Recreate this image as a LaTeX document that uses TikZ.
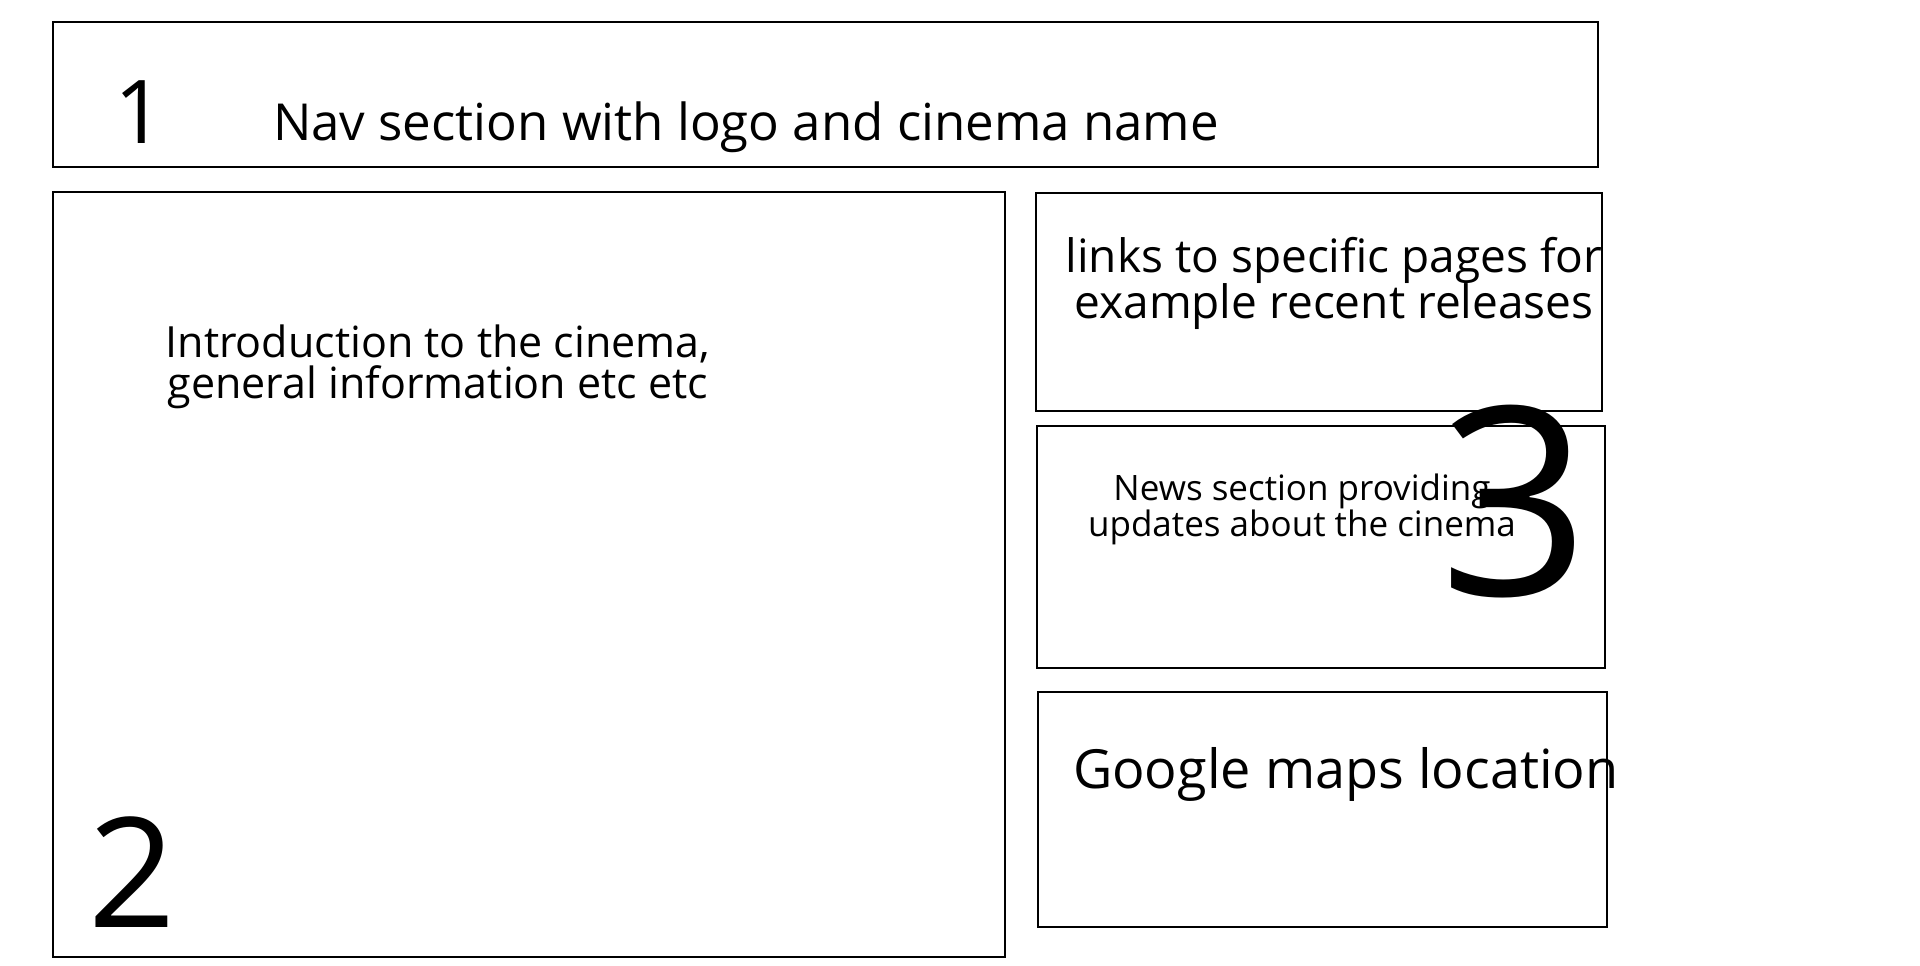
\documentclass[tikz,border=0pt]{standalone}
\usepackage{fontspec}
\setmainfont{Open Sans}
\begin{document}
\begin{tikzpicture}[x=1pt,y=-1pt,
  panel/.style={draw=black,line width=1.2pt},
  lbl/.style={inner sep=0pt,outer sep=0pt,text=black}]
\useasboundingbox[fill=white] (0,0) rectangle (1920,966);
% panels
\draw[panel] (53,22) rectangle (1598,167);
\draw[panel] (53,192) rectangle (1005,957);
\draw[panel] (1036,193) rectangle (1602,411);
\draw[panel] (1037,426) rectangle (1605,668);
\draw[panel] (1038,692) rectangle (1607,927);
% texts
\node[lbl,anchor=base west,font=\fontsize{88}{100}\selectfont] (n1) at (114,143) {1};
\node[lbl,anchor=base west,font=\fontsize{51}{60}\selectfont] (nav) at (273,140) {Nav section with logo and cinema name};
\node[lbl,align=center,font=\fontsize{43}{41}\selectfont] (intro) at (438,367) {Introduction to the cinema,\\general information etc etc};
\node[lbl,align=center,font=\fontsize{46}{46}\selectfont] (links) at (1334,283) {links to specific pages for\\example recent releases};
\node[lbl,anchor=base west,font=\fontsize{263}{300}\selectfont] (n3) at (1439,595) {3};
\node[lbl,align=center,font=\fontsize{35}{34}\selectfont] (news) at (1302,509) {News section providing\\updates about the cinema};
\node[lbl,anchor=base west,font=\fontsize{54}{62}\selectfont] (maps) at (1073,788) {Google maps location};
\node[lbl,anchor=base west,font=\fontsize{153}{170}\selectfont] (n2) at (88,927) {2};
\end{tikzpicture}
\end{document}
